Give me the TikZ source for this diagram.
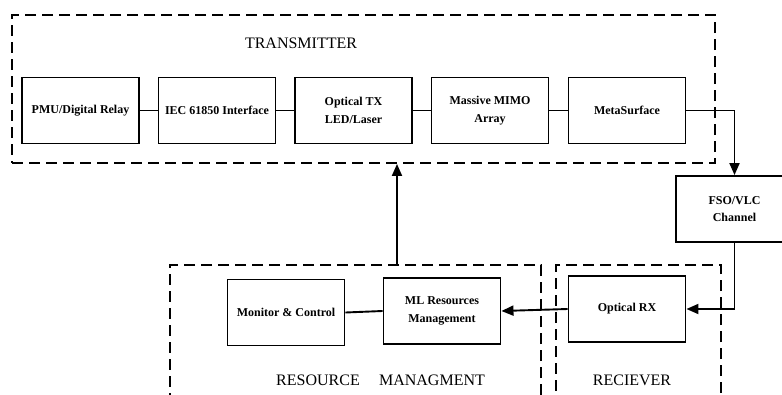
\documentclass[tikz,border=0pt]{standalone}
\usepackage{fontspec}
\setmainfont{Liberation Serif}
\usetikzlibrary{arrows.meta}
\tikzset{
  blk/.style={draw=black, line width=1.9pt, minimum width=117pt, minimum height=66pt, inner sep=2pt,
    align=center, font=\bfseries\fontsize{12}{17.5}\selectfont},
  grp/.style={draw=black, line width=1.9pt, dash pattern=on 11pt off 6pt, inner sep=0pt},
  ttl/.style={font=\fontsize{16}{18}\selectfont, inner sep=0pt},
  wire/.style={line width=1.9pt},
  arr/.style={line width=1.9pt, -{Triangle[length=12pt,width=10pt]}},
}
\begin{document}
\begin{tikzpicture}[x=1pt,y=-1pt]
\useasboundingbox (0,0) rectangle (782,394);
\clip (0,0) rectangle (782,394);
\fill[white] (0,0) rectangle (782,394);
% group boxes
\node[grp, minimum width=703pt, minimum height=148pt] (tx) at (363.5,89) {};
\node[grp, minimum width=371pt, minimum height=150pt] (res) at (355.5,340) {};
\node[grp, minimum width=165pt, minimum height=150pt] (rcv) at (638.5,340) {};
% titles
\node[ttl] (ttx) at (301,43) {TRANSMITTER};
\node[ttl] (tres1) at (318,380) {RESOURCE};
\node[ttl] (tres2) at (432,380) {MANAGMENT};
\node[ttl] (trcv) at (632,380) {RECIEVER};
% transmitter blocks
\node[blk] (pmu) at (80.5,110.5) {PMU/Digital Relay};
\node[blk] (iec) at (217,110.5) {IEC 61850 Interface};
\node[blk] (otx) at (353.5,110.5) {Optical TX\\LED/Laser};
\node[blk] (mimo) at (490,110.5) {Massive MIMO\\Array};
\node[blk] (meta) at (627,110.5) {MetaSurface};
% channel
\node[blk] (fso) at (734.5,209) {FSO/VLC\\Channel};
% receiver
\node[blk] (orx) at (627,309) {Optical RX};
% resource management
\node[blk] (ml) at (442,311) {ML Resources\\Management};
\node[blk] (mon) at (286,312.5) {Monitor \& Control};
% connectors
\draw[wire] (pmu) -- (iec);
\draw[wire] (iec) -- (otx);
\draw[wire] (otx) -- (mimo);
\draw[wire] (mimo) -- (meta);
\draw[arr] (meta.east) -| (fso.north);
\draw[arr] (fso.south) |- (orx.east);
\draw[arr] (orx.west) -- (ml.east);
\draw[wire] (mon.east) -- (ml.west);
\coordinate (up) at (397,265);
\draw[arr] (up) -- (up |- tx.south);
\end{tikzpicture}
\end{document}
